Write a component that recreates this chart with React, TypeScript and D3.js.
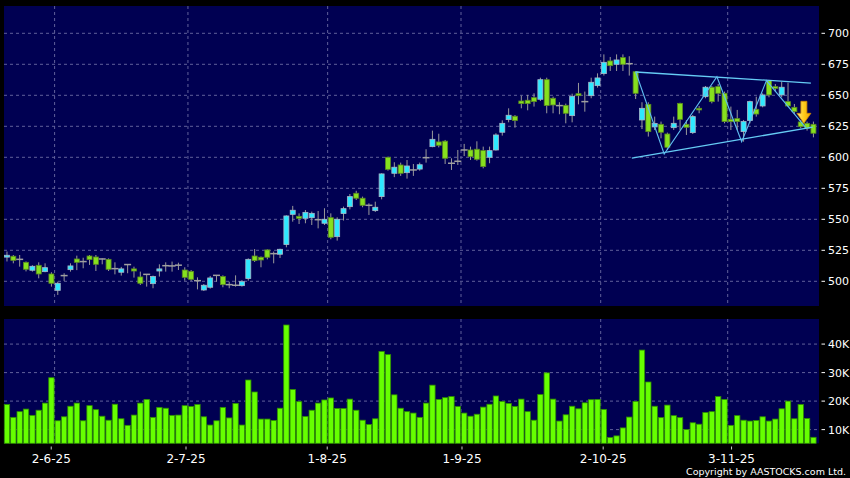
import React from "react";
import * as d3 from "d3";

const openP = [519.5,520.2,517.7,515.3,508.9,512.9,507.8,505.9,492.7,504.6,509.4,518,515.9,520.4,519.6,518,517.7,510.2,507.3,513.5,510,503.5,505.6,498.1,508.3,512.6,512.4,513,509.1,508,500.5,493,495.2,504.8,503.8,497.3,496.8,496.5,502.2,520.4,519.4,525.3,522.3,521.8,529.6,554,552.4,550.8,551.3,549.7,546.8,551.3,536,554.6,560.2,571,567,561.3,557,568.3,600,587.1,593.8,587.6,589.8,590.5,599.7,608.6,612.4,613,595.2,596.8,605.9,605.9,606.5,605.4,600,605.9,620.2,630.4,633.1,645.4,646,648.1,646.8,662.6,647.6,641.7,641.9,633.6,651.3,644.9,649.7,657.8,667.5,677.7,675,680.4,675.5,669,630.1,642.7,624.5,626.6,618.8,623.9,643.5,626.6,619.9,639.5,648.9,656.5,657,651.6,630.6,631.2,620.7,629.6,638.7,641.4,661.8,657,650.3,644.9,640.3,628.5,627.4,626.6];
const highP = [524,521.2,521.2,516,513,515.3,514.5,507.3,499.7,506.5,514.5,520.7,519,521.2,521.2,518.5,518.5,515.3,511.6,513.7,511.8,507.8,505.6,504.6,513.7,515.3,515.9,515,511.3,509.1,503.2,497.8,504.3,504.8,504.8,499.7,504.8,501,518.5,526,520,525.8,524,526.3,553.2,560.8,554.8,557.5,556.2,556.7,558.9,554.8,551.6,560.2,570.4,573,568.3,562.9,564.2,587.1,600.5,596,595.7,597.8,594.6,595.7,606.5,621.5,619,614,599.2,605.9,610.8,608.6,612.9,608.6,608.6,619.4,629.8,639.5,634.1,649.7,650.3,651.6,664.2,664.2,648.9,644.4,643.3,651.3,660,653,664.2,667.7,683,680.9,683,683,681.5,669.6,644.4,644.4,632.8,628.8,619.9,632.8,644,630,634.1,641.4,657.5,657.5,659.1,653,640.9,638.2,630.1,645.7,648.9,651.6,662.4,659.1,661,660.2,643,630.1,628.8,628.8];
const lowP = [516,514.5,511.8,508,507.8,502.4,507.3,495.7,489,500.3,507.8,509,510.5,513.2,508.3,513.7,508.3,505.6,504.6,506.5,503,497,495.7,494.4,503.8,507.8,507.8,509.1,500.5,500.3,493.5,492.2,494.1,499.7,495.2,494.4,495.7,495.7,500.5,515.6,511.3,517.7,514.5,518.8,527.4,548.1,546.2,546.8,545.4,542.7,545.4,533.9,532.8,549,558,565.6,559.7,553.5,555.9,566.1,589.2,584,585,582.8,585,589.2,595.7,608.1,608,594.6,589.8,593.8,601,597.8,597.3,591.1,595.2,605.4,617.5,628.2,623.9,639.5,637.9,640.9,645.4,635.5,635.5,634.7,627.4,628.2,642.7,636.8,647.6,656.2,665.9,669.6,669.6,669.6,665.9,647,622.8,616.7,622,615.3,605.9,622,622,618,618.8,635.5,647.6,643.5,644.9,627.4,622,622,612.6,627.4,632.8,640.3,648.4,653,648.4,640.9,635,623.4,621.5,616.1];
const closeP = [521,516.9,517.7,509.7,512.1,505.9,511,498.4,498.4,504.6,512.4,515.3,515.9,517.5,513.7,518,509.7,510.2,510,513.5,508.3,498.4,505.6,503.8,510,512.6,512.4,513,503.2,501.6,500.5,496.8,502.7,504.8,497.3,497.3,496.8,499.7,517.7,516.7,517.2,519.4,522.3,525.8,552.7,557.3,550.8,555.6,554.8,549.7,550,535.5,550,558.6,568.3,567,561.3,561.3,559.7,586.6,590.3,592,587.1,593,589.8,594,599.7,614.5,609.7,599.2,595.2,596.8,605.9,600.5,598.4,592.5,605.4,618,627.4,633.9,629.6,643.3,643.3,644.9,662.6,641.7,642.2,641.7,635.5,649.2,649.7,644.9,660.5,664,676.6,673.9,678.5,675,675.5,651.6,639.5,620.7,627.2,620.2,608.1,627.4,630.6,624.2,632.8,638.2,656.5,644.9,651.6,628.8,628.8,628.8,628.8,644.9,634.9,650.3,650.3,655.6,656.5,641.4,636.8,624.7,623.4,619.4];
const volumeK = [18.8,14.3,16.3,17.2,15.0,16.8,19.3,28.2,13.1,14.5,18.2,19.3,13.1,18.4,17.0,14.7,13.3,18.9,13.8,11.5,15.1,19.3,20.6,14.3,17.8,17.5,15.0,15.1,18.4,18.1,18.8,14.5,11.6,13.1,17.8,14.1,19.2,11.6,27.4,23.2,13.7,13.7,13.2,17.5,46.7,24.1,19.8,14.6,16.8,19.3,20.4,21.1,17.4,17.4,20.7,16.8,13.3,11.8,13.8,37.4,36.3,22.2,17.5,16.3,15.8,14.3,19.3,25.6,20.6,21.2,21.6,18.1,15.8,14.7,15.4,17.9,18.9,21.8,19.9,19.2,18.1,20.7,16.3,13.3,22.3,29.9,20.7,13.0,15.2,18.2,17.3,19.4,20.5,20.6,17.1,7.2,7.8,10.6,14.4,19.9,37.9,26.7,18.2,14.2,18.6,14.9,14.2,10.0,12.4,11.9,16.0,16.3,21.6,20.6,11.5,14.9,13.3,13.0,13.2,14.5,13.0,13.7,17.3,20.0,13.8,18.8,13.9,7.3];

const dateTickIndex = [7, 28, 50, 71, 93, 113];
const dateTickLabels = ["2-6-25", "2-7-25", "1-8-25", "1-9-25", "2-10-25", "3-11-25"];
const priceTicks = [500, 525, 550, 575, 600, 625, 650, 675, 700];
const volumeTicks = [10, 20, 30, 40];

// pattern lines in data space: [index, price]
const upperLine: [number, number][] = [[99, 668.8], [126.6, 659.9]];
const lowerLine: [number, number][] = [[98.4, 599.4], [126.9, 624.4]];
const zigzag: [number, number][] = [[99, 669], [103.5, 602.7], [111.8, 665], [115.7, 612.6], [119.6, 661.8], [125.8, 624]];
const arrowAt: [number, number] = [125.5, 627.4];

const W = 850, H = 478;
const plotL = 4, plotR = 819;
const priceTop = 6, priceBot = 306;
const volTop = 319, volBot = 443.3;
const NAVY = "#000052";
const GRID = "#60609a";
const FONT = "DejaVu Sans";

export default function App() {
  const n = openP.length;
  const x = d3.scaleBand<number>().domain(d3.range(n)).range([3.8, 816.6]).padding(0);
  const step = x.step();
  const cx = (i: number) => (x(i) as number) + step / 2;
  const xc = d3.scaleLinear().domain([0, n - 1]).range([cx(0), cx(n - 1)]);
  const xLabel = d3.scaleLinear().domain([0, n - 1]).range([plotL + 2.3, plotR + 2.4]);
  const yP = d3.scaleLinear().domain([500, 700]).range([281.3, 33.3]);
  const yV = d3.scaleLinear().domain([5.2, 48.8]).range([volBot, volTop]);

  const line = d3.line<[number, number]>().x(d => xc(d[0])).y(d => yP(d[1]));

  const bodyW = 5;
  const candles = d3.range(n).map(i => {
    const o = openP[i], c = closeP[i], h = highP[i], l = lowP[i];
    const X = cx(i);
    const up = c > o, down = c < o;
    const fill = up ? "#2ee8ff" : down ? "#86e01e" : "#9a9a9a";
    const top = yP(Math.max(o, c)), bot = yP(Math.min(o, c));
    return (
      <g key={i}>
        <line x1={X} x2={X} y1={yP(h)} y2={yP(l)} stroke="#9a9a9a" strokeWidth={1} />
        {up || down ? (
          <rect x={X - bodyW / 2} y={top} width={bodyW} height={Math.max(1, bot - top)} fill={fill} stroke={up ? "#a8b8c8" : "#5a8a20"} strokeWidth={0.8} />
        ) : (
          <line x1={X - 3.5} x2={X + 3.5} y1={top} y2={top} stroke="#a0a0a0" strokeWidth={1.5} />
        )}
      </g>
    );
  });

  const vols = d3.range(n).map(i => (
    <rect key={i} x={(x(i) as number) + 0.5} y={yV(volumeK[i])} width={step - 1} height={volBot - yV(volumeK[i])} fill="#66ff00" stroke="#2f8f00" strokeWidth={0.8} />
  ));

  const ax = arrowAt;
  const tipX = xc(ax[0]), tipY = yP(ax[1]);
  const arrowPath = `M${tipX - 3},${tipY - 22} L${tipX + 3},${tipY - 22} L${tipX + 3},${tipY - 10} L${tipX + 7},${tipY - 10} L${tipX},${tipY} L${tipX - 7},${tipY - 10} L${tipX - 3},${tipY - 10} Z`;

  return (
    <svg width={W} height={H} style={{ position: "fixed", left: 0, top: 0 }} fontFamily={FONT}>
      <defs>
        <linearGradient id="arrowGrad" x1="0" x2="1" y1="0" y2="0">
          <stop offset="0" stopColor="#ffe680" />
          <stop offset="0.5" stopColor="#ffcc1a" />
          <stop offset="1" stopColor="#f0a000" />
        </linearGradient>
      </defs>
      <rect x={0} y={0} width={W} height={H} fill="#000" />
      <rect x={plotL} y={priceTop} width={plotR - plotL} height={priceBot - priceTop} fill={NAVY} />
      <rect x={plotL} y={volTop} width={plotR - plotL} height={volBot - volTop} fill={NAVY} />

      {priceTicks.map(t => (
        <line key={"pg" + t} x1={plotL} x2={plotR} y1={yP(t)} y2={yP(t)} stroke={GRID} strokeDasharray="3,3" />
      ))}
      {volumeTicks.map(t => (
        <line key={"vg" + t} x1={plotL} x2={plotR} y1={yV(t)} y2={yV(t)} stroke={GRID} strokeDasharray="3,3" />
      ))}
      {dateTickIndex.map(k => (
        <g key={"dg" + k}>
          <line x1={cx(k) + step / 2} x2={cx(k) + step / 2} y1={priceTop} y2={priceBot} stroke={GRID} strokeDasharray="3,3" />
          <line x1={cx(k) + step / 2} x2={cx(k) + step / 2} y1={volTop} y2={volBot} stroke={GRID} strokeDasharray="3,3" />
        </g>
      ))}

      {candles}

      <path d={line(upperLine) || ""} stroke="#66ccf5" strokeWidth={1.3} fill="none" />
      <path d={line(lowerLine) || ""} stroke="#66ccf5" strokeWidth={1.3} fill="none" />
      <path d={line(zigzag) || ""} stroke="#5fbdf0" strokeWidth={1.1} fill="none" />
      <path d={arrowPath} fill="url(#arrowGrad)" stroke="#d08a00" strokeWidth={0.8} />

      {vols}

      {priceTicks.map(t => (
        <g key={"pt" + t}>
          <line x1={821.5} x2={825} y1={yP(t)} y2={yP(t)} stroke="#fff" strokeWidth={1} />
          <text x={828} y={yP(t)} dy="0.36em" fill="#fff" fontSize={11}>{t}</text>
        </g>
      ))}
      {volumeTicks.map(t => (
        <g key={"vt" + t}>
          <line x1={821.5} x2={825} y1={yV(t)} y2={yV(t)} stroke="#fff" strokeWidth={1} />
          <text x={828} y={yV(t)} dy="0.36em" fill="#fff" fontSize={11}>{t + "K"}</text>
        </g>
      ))}
      {dateTickIndex.map((k, j) => (
        <g key={"dt" + k}>
          <line x1={xLabel(k)} x2={xLabel(k)} y1={446.5} y2={449.5} stroke="#ccc" strokeWidth={1} />
          <text x={xLabel(k)} y={462.5} textAnchor="middle" fill="#fff" fontSize={12}>{dateTickLabels[j]}</text>
        </g>
      ))}
      <text x={846} y={475} textAnchor="end" fill="#fff" fontSize={9.5}>Copyright by AASTOCKS.com Ltd.</text>
    </svg>
  );
}
